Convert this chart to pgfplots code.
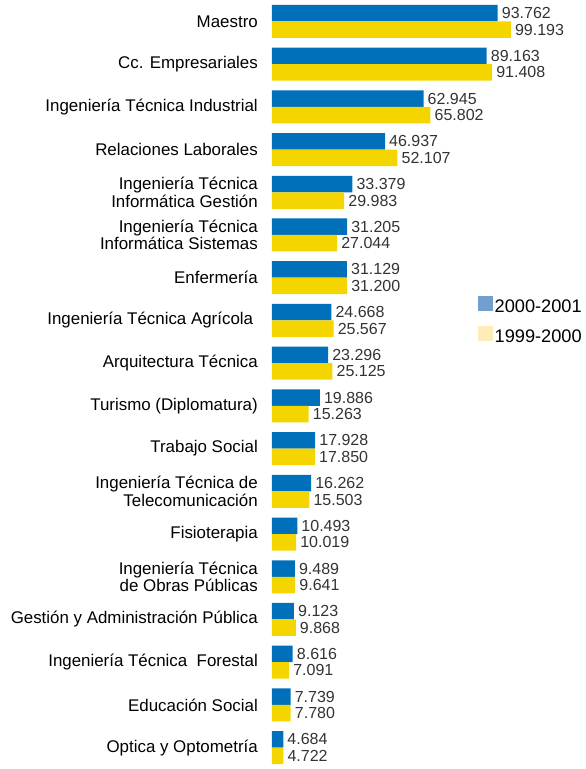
\documentclass[border=0pt]{standalone}
\usepackage{pgfplots}
\pgfplotsset{compat=1.18}
\usepackage{fontspec}
\setmainfont{Liberation Sans}
\definecolor{barblue}{RGB}{0,112,186}
\definecolor{baryellow}{RGB}{245,213,0}
\definecolor{legblue}{RGB}{114,159,207}
\definecolor{legyellow}{RGB}{255,236,183}
\definecolor{valtext}{RGB}{51,51,51}

\begin{document}
\begin{tikzpicture}
\begin{axis}[
    xbar,
    scale only axis,
    width=313pt,
    height=769pt,
    xmin=0, xmax=130,
    ymin=-0.5, ymax=17.5,
    y dir=reverse,
    clip=false,
    axis line style={draw=none},
    xtick=\empty,
    ytick={0,...,17},
    major tick length=0pt,
    yticklabels={
        Maestro,
        Cc. Empresariales,
        Ingeniería Técnica Industrial,
        Relaciones Laborales,
        {Ingeniería Técnica\\Informática Gestión},
        {Ingeniería Técnica\\Informática Sistemas},
        Enfermería,
        Ingeniería Técnica Agrícola\ ,
        Arquitectura Técnica,
        Turismo (Diplomatura),
        Trabajo Social,
        {Ingeniería Técnica de\\Telecomunicación},
        Fisioterapia,
        {Ingeniería Técnica\\de Obras Públicas},
        Gestión y Administración Pública,
        Ingeniería Técnica\ \ Forestal,
        Educación Social,
        Optica y Optometría},
    yticklabel style={align=right, inner sep=0pt, xshift=-14pt,
        font=\fontsize{16.9}{17.7}\selectfont},
    bar width=16.5pt,
    point meta=x,
    nodes near coords,
    nodes near coords style={anchor=west, inner sep=0pt, xshift=4pt,
        font=\fontsize{16}{18}\selectfont, text=valtext,
        /pgf/number format/.cd, fixed, fixed zerofill, precision=3,
        assume math mode=true},
    legend style={draw=none, fill=none, inner sep=0pt,
        at={(axis description cs:0.658,0.583)}, anchor=west,
        font=\fontsize{18.2}{19}\selectfont,
        row sep=10pt,
        nodes={inner sep=1.5pt}},
    legend cell align=left,
    legend image code/.code={\fill[#1] (0pt,-4pt) rectangle (15pt,11pt);},
]
% 2000-2001 (miles)
\addplot[fill=barblue, draw=none, bar shift=8.25pt, forget plot] coordinates {
    (93.762,0) (89.163,1) (62.945,2) (46.937,3) (33.379,4) (31.205,5)
    (31.129,6) (24.668,7) (23.296,8) (19.886,9) (17.928,10) (16.262,11)
    (10.493,12) (9.489,13) (9.123,14) (8.616,15) (7.739,16) (4.684,17)
};
% 1999-2000 (miles)
\addplot[fill=baryellow, draw=none, bar shift=-8.25pt, forget plot] coordinates {
    (99.193,0) (91.408,1) (65.802,2) (52.107,3) (29.983,4) (27.044,5)
    (31.200,6) (25.567,7) (25.125,8) (15.263,9) (17.850,10) (15.503,11)
    (10.019,12) (9.641,13) (9.868,14) (7.091,15) (7.780,16) (4.722,17)
};
\addlegendimage{fill=legblue, draw=none}
\addlegendentry{2000-2001}
\addlegendimage{fill=legyellow, draw=none}
\addlegendentry{1999-2000}
\end{axis}
\path ([xshift=-272pt]current axis.south west) rectangle (current axis.north east);
\end{tikzpicture}
\end{document}
